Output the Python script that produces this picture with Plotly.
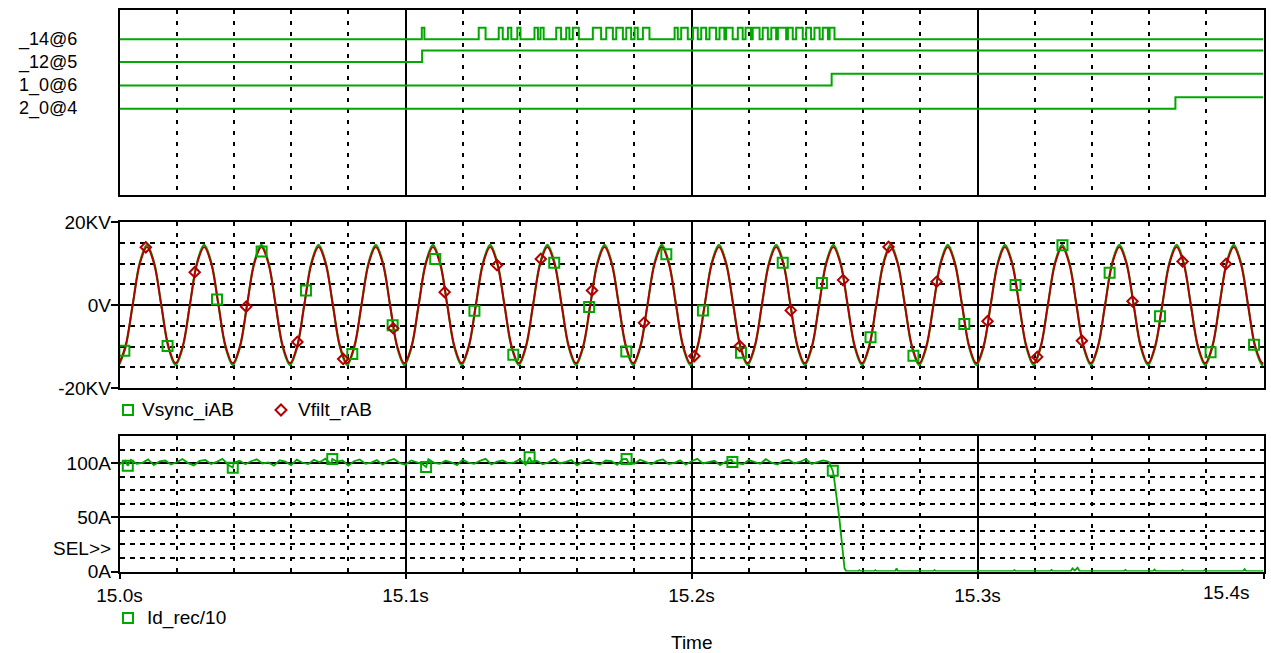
import plotly.graph_objects as go

W, H = 1271, 653
GREEN = "#00A800"
RED = "#B00000"
FONT = "Liberation Sans, Arial, sans-serif"

# ---------------- data ----------------
t_range = [15.0, 15.4]
x_tickvals = [15.0, 15.1, 15.2, 15.3, 15.4]
x_ticktext = ["15.0s", "15.1s", "15.2s", "15.3s", ""]

# digital signals: times of level changes (start low)
sig_names = ["_14@6", "_12@5", "1_0@6", "2_0@4"]
sig14_edges = [15.1057, 15.1066, 15.1256, 15.1280, 15.1326, 15.1340, 15.1358, 15.1370,
               15.1391, 15.1402, 15.1451, 15.1463, 15.1472, 15.1483, 15.1527, 15.1544,
               15.1562, 15.1573, 15.1585, 15.1606, 15.1655, 15.1684, 15.1702, 15.1725,
               15.1737, 15.1760, 15.1772, 15.1789, 15.1801, 15.1812, 15.1830, 15.1853,
               15.1941, 15.1952, 15.1964, 15.1987, 15.2005, 15.2022, 15.2034, 15.2051,
               15.2063, 15.2086, 15.2098, 15.2115, 15.2121, 15.2144, 15.2162, 15.2179,
               15.2189, 15.2208, 15.2214, 15.2238, 15.2249, 15.2267, 15.2279, 15.2296,
               15.2302, 15.2331, 15.2337, 15.2354, 15.2366, 15.2389, 15.2401, 15.2418,
               15.2430, 15.2448, 15.2459, 15.2477, 15.2483, 15.2500]
sig12_edges = [15.1058]
sig10_edges = [15.2490]
sig20_edges = [15.3692]

# voltages (kV), sampled every 2.5 ms
v_t = [15.0] + [round(15.0021 + 0.0025 * k, 4) for k in range(160)] + [15.4]
vfilt_kv = [-13.9,
    -9.9, 0.0, 9.9, 14.0, 9.9, 0.0, -9.9, -14.0,
    -9.9, 0.0, 9.9, 14.0, 9.9, 0.0, -9.9, -14.0,
    -9.9, 0.0, 9.9, 14.0, 9.9, 0.0, -9.9, -14.0,
    -9.9, 0.0, 9.9, 14.0, 9.9, 0.0, -9.9, -14.0,
    -9.9, 0.0, 9.9, 14.0, 9.9, 0.0, -9.9, -14.0,
    -9.9, 0.0, 9.9, 14.0, 9.9, 0.0, -9.9, -14.0,
    -9.9, 0.0, 9.9, 14.0, 9.9, 0.0, -9.9, -14.0,
    -9.9, 0.0, 9.9, 14.0, 9.9, 0.0, -9.9, -14.0,
    -9.9, 0.0, 9.9, 14.0, 9.9, 0.0, -9.9, -14.0,
    -9.9, 0.0, 9.9, 14.0, 9.9, 0.0, -9.9, -14.0,
    -9.9, 0.0, 9.9, 14.0, 9.9, 0.0, -9.9, -14.0,
    -9.9, 0.0, 9.9, 14.0, 9.9, 0.0, -9.9, -14.0,
    -9.9, 0.0, 9.9, 14.0, 9.9, 0.0, -9.9, -14.0,
    -9.9, 0.0, 9.9, 14.0, 9.9, 0.0, -9.9, -14.0,
    -9.9, 0.0, 9.9, 14.0, 9.9, 0.0, -9.9, -14.0,
    -9.9, 0.0, 9.9, 14.0, 9.9, 0.0, -9.9, -14.0,
    -9.9, 0.0, 9.9, 14.0, 9.9, 0.0, -9.9, -14.0,
    -9.9, 0.0, 9.9, 14.0, 9.9, 0.0, -9.9, -14.0,
    -9.9, 0.0, 9.9, 14.0, 9.9, 0.0, -9.9, -14.0,
    -9.9, 0.0, 9.9, 14.0, 9.9, 0.0, -9.9, -14.0,
    -13.9]
vsync_kv = [-14.3,
    -10.3, 0.0, 10.3, 14.5, 10.3, 0.0, -10.3, -14.5,
    -10.3, 0.0, 10.3, 14.5, 10.3, 0.0, -10.3, -14.5,
    -10.3, 0.0, 10.3, 14.5, 10.3, 0.0, -10.3, -14.5,
    -10.3, 0.0, 10.3, 14.5, 10.3, 0.0, -10.3, -14.5,
    -10.3, 0.0, 10.3, 14.5, 10.3, 0.0, -10.3, -14.5,
    -10.3, 0.0, 10.3, 14.5, 10.3, 0.0, -10.3, -14.5,
    -10.3, 0.0, 10.3, 14.5, 10.3, 0.0, -10.3, -14.5,
    -10.3, 0.0, 10.3, 14.5, 10.3, 0.0, -10.3, -14.5,
    -10.3, 0.0, 10.3, 14.5, 10.3, 0.0, -10.3, -14.5,
    -10.3, 0.0, 10.3, 14.5, 10.3, 0.0, -10.3, -14.5,
    -10.3, 0.0, 10.3, 14.5, 10.3, 0.0, -10.3, -14.5,
    -10.3, 0.0, 10.3, 14.5, 10.3, 0.0, -10.3, -14.5,
    -10.3, 0.0, 10.3, 14.5, 10.3, 0.0, -10.3, -14.5,
    -10.3, 0.0, 10.3, 14.5, 10.3, 0.0, -10.3, -14.5,
    -10.3, 0.0, 10.3, 14.5, 10.3, 0.0, -10.3, -14.5,
    -10.3, 0.0, 10.3, 14.5, 10.3, 0.0, -10.3, -14.5,
    -10.3, 0.0, 10.3, 14.5, 10.3, 0.0, -10.3, -14.5,
    -10.3, 0.0, 10.3, 14.5, 10.3, 0.0, -10.3, -14.5,
    -10.3, 0.0, 10.3, 14.5, 10.3, 0.0, -10.3, -14.5,
    -10.3, 0.0, 10.3, 14.5, 10.3, 0.0, -10.3, -14.5,
    -14.3]

vsync_mk_t = [15.0017, 15.0168, 15.0341, 15.0497, 15.0652, 15.0814, 15.0955, 15.1104,
              15.1241, 15.1377, 15.1520, 15.1642, 15.1772, 15.1912, 15.2040, 15.2173,
              15.2319, 15.2456, 15.2626, 15.2776, 15.2954, 15.3133, 15.3297, 15.3462,
              15.3638, 15.3815, 15.3967]
vsync_mk_kv = [-11.0, -9.9, 1.3, 12.9, 3.5, -11.8, -4.9, 11.1,
               -1.4, -12.0, 10.2, -0.5, -11.2, 12.2, -1.3, -11.5,
               10.2, 5.3, -7.8, -12.2, -4.6, 4.8, 14.4, 7.8,
               -2.7, -11.4, -9.6]
vfilt_mk_t = [15.0092, 15.0263, 15.0443, 15.0622, 15.0782, 15.0957, 15.1137, 15.1320,
              15.1473, 15.1652, 15.1834, 15.2010, 15.2169, 15.2347, 15.2530, 15.2689,
              15.2857, 15.3035, 15.3209, 15.3365, 15.3542, 15.3717, 15.3869]
vfilt_mk_kv = [13.9, 7.9, -0.4, -8.9, -13.0, -5.6, 3.1, 9.6,
               11.1, 3.5, -4.3, -12.3, -9.9, -1.3, 6.0, 14.0,
               5.6, -3.9, -12.5, -8.6, 0.9, 10.5, 9.9]

mid_tickvals = [-20, 0, 20]
mid_ticktext = ["-20KV", "0V", "20KV"]

# current Id_rec/10 (A): noisy plateau sampled every 2 ms
id_t = [round(15.0 + 0.002 * i, 3) for i in range(125)]
id_a = [98.9, 102.1, 103.0, 99.4, 100.3, 103.4, 98.2, 101.5, 102.4, 98.7,
        100.8, 103.7, 100.0, 97.9, 102.0, 102.8, 99.2, 101.1, 103.9, 98.5,
        100.4, 102.2, 99.0, 101.7, 103.5, 99.7, 100.6, 97.6, 102.6, 101.3,
        98.2, 103.2, 100.3, 99.1, 103.1, 100.7, 104.1, 98.8, 101.4, 102.4,
        97.8, 101.7, 103.4, 99.4, 100.4, 102.8, 98.6, 102.0, 103.8, 100.0,
        98.5, 102.5, 101.1, 99.0, 103.6, 100.3, 99.4, 102.1, 100.8, 98.2,
        103.2, 100.4, 99.3, 102.0, 103.9, 98.7, 101.4, 102.5, 99.7, 100.7,
        103.4, 98.5, 101.5, 102.1, 99.0, 100.8, 103.8, 99.7, 101.1, 102.8,
        97.9, 101.3, 103.2, 100.0, 98.7, 102.4, 101.8, 98.4, 103.6, 100.4,
        99.4, 103.1, 100.7, 99.0, 102.0, 103.4, 99.2, 100.3, 102.5, 98.5,
        101.7, 103.9, 99.7, 100.8, 102.1, 98.2, 101.5, 103.2, 100.0, 99.0,
        102.8, 101.1, 99.4, 103.6, 100.4, 98.7, 102.0, 103.1, 99.7, 101.3,
        103.8, 99.2, 100.8, 102.5, 101.3]
# collapse and tail
id_tail_t = [15.2494, 15.2498, 15.2508, 15.2517, 15.2526, 15.2535, 15.2541,
             15.2560, 15.2583, 15.2587, 15.2591, 15.2639, 15.2643, 15.2647, 15.2712,
             15.2717, 15.2722, 15.2845, 15.2850, 15.2855, 15.3002, 15.3007, 15.3012,
             15.3124, 15.3129, 15.3134, 15.3254, 15.3259, 15.3264, 15.3326, 15.3332,
             15.3340, 15.3350, 15.3357, 15.3512, 15.3517, 15.3522, 15.3614, 15.3619,
             15.3624, 15.3712, 15.3717, 15.3722, 15.3789, 15.3794, 15.3799, 15.3929,
             15.3934, 15.3939, 15.4000]
id_tail_a = [93.0, 87.0, 68.0, 49.0, 26.0, 3.0, 0.4,
             0.3, 0.3, 1.2, 0.3, 0.3, 1.2, 0.3, 0.3,
             2.8, 0.3, 0.3, 1.2, 0.3, 0.3, 1.0, 0.3,
             0.3, 1.2, 0.3, 0.3, 1.4, 0.3, 0.3, 2.8,
             0.8, 3.5, 0.3, 0.3, 1.4, 0.3, 0.3, 1.8,
             0.3, 0.3, 1.4, 0.3, 0.3, 1.2, 0.3, 0.3,
             2.2, 0.3, 0.3]
id_mk_t = [15.0029, 15.0396, 15.0744, 15.1072, 15.1434, 15.1773, 15.2143, 15.2494]
id_mk_a = [97.6, 95.8, 103.8, 96.4, 105.4, 103.8, 101.0, 93.0]

bot_tickvals = [0, 50, 100]
bot_ticktext = ["0A", "50A", "100A"]

# ---------------- layout helpers ----------------
def px(x):
    return x / W

def py(y):
    return 1 - y / H

XDOM = [px(119.5), px(1263.5)]
TOP_DOM = [py(195), py(10)]
MID_DOM = [py(388), py(222)]
BOT_DOM = [py(571.5), py(436)]

row_base = [6.73, 5.75, 4.74, 3.73]
row_high = 0.5

fig = go.Figure()

def digital(edges, base):
    xs = [t_range[0]]
    ys = [base]
    lvl = 0
    for e in edges:
        lvl = 1 - lvl
        xs.append(e)
        ys.append(base + lvl * row_high)
    xs.append(t_range[1])
    ys.append(base + lvl * row_high)
    return xs, ys

for name, edges, base in zip(sig_names, [sig14_edges, sig12_edges, sig10_edges, sig20_edges], row_base):
    xs, ys = digital(edges, base)
    fig.add_trace(go.Scatter(x=xs, y=ys, mode="lines", line=dict(color=GREEN, width=2, shape="hv"),
                             xaxis="x", yaxis="y", showlegend=False, hoverinfo="skip", name=name))

fig.add_trace(go.Scatter(x=v_t, y=vsync_kv, mode="lines", line=dict(color=GREEN, width=2, shape="spline"),
                         xaxis="x2", yaxis="y2", showlegend=False, name="Vsync_iAB"))
fig.add_trace(go.Scatter(x=v_t, y=vfilt_kv, mode="lines", line=dict(color=RED, width=2, shape="spline"),
                         xaxis="x2", yaxis="y2", showlegend=False, name="Vfilt_rAB"))
fig.add_trace(go.Scatter(x=vsync_mk_t, y=vsync_mk_kv, mode="markers",
                         marker=dict(symbol="square-open", size=10, color=GREEN, line=dict(width=2, color=GREEN)),
                         xaxis="x2", yaxis="y2", showlegend=False))
fig.add_trace(go.Scatter(x=vfilt_mk_t, y=vfilt_mk_kv, mode="markers",
                         marker=dict(symbol="diamond-open", size=8, color=RED, line=dict(width=2, color=RED)),
                         xaxis="x2", yaxis="y2", showlegend=False))

pts = sorted(list(zip(id_t, id_a)) + list(zip(id_mk_t[:-1], id_mk_a[:-1])) + list(zip(id_tail_t, id_tail_a)))
fig.add_trace(go.Scatter(x=[p[0] for p in pts], y=[p[1] for p in pts], mode="lines",
                         line=dict(color=GREEN, width=1.8), xaxis="x3", yaxis="y3", showlegend=False,
                         name="Id_rec/10"))
fig.add_trace(go.Scatter(x=id_mk_t, y=id_mk_a, mode="markers",
                         marker=dict(symbol="square-open", size=10, color=GREEN, line=dict(width=2, color=GREEN)),
                         xaxis="x3", yaxis="y3", showlegend=False))

tickfont = dict(family=FONT, size=19, color="black")

def xaxis_cfg(anchor, labels):
    cfg = dict(domain=XDOM, anchor=anchor, range=t_range, showline=True, mirror=True,
               linecolor="black", linewidth=1.5, zeroline=False, automargin=False,
               tickmode="array", tickvals=x_tickvals, ticktext=x_ticktext,
               showgrid=True, gridcolor="black", gridwidth=1.5,
               minor=dict(tickmode="linear", tick0=15.0, dtick=0.02, showgrid=True,
                          gridcolor="black", gridwidth=1.5, griddash="4px,7px", ticks=""),
               tickfont=tickfont)
    if labels:
        cfg.update(ticks="outside", ticklen=6, tickwidth=1.5, tickcolor="black", showticklabels=True)
    else:
        cfg.update(ticks="", showticklabels=False)
    return cfg

fig.update_layout(
    width=W, height=H, margin=dict(l=0, r=0, t=0, b=0, autoexpand=False),
    paper_bgcolor="white", plot_bgcolor="white", showlegend=False,
    font=dict(family=FONT, size=19, color="black"),
    xaxis=xaxis_cfg("y", False),
    xaxis2=xaxis_cfg("y2", False),
    xaxis3=xaxis_cfg("y3", True),
    yaxis=dict(domain=TOP_DOM, anchor="x", range=[0, 8], showline=True, mirror=True,
               linecolor="black", linewidth=1.5, showgrid=False, zeroline=False, automargin=False,
               ticks="", showticklabels=False),
    yaxis2=dict(domain=MID_DOM, anchor="x2", range=[-20, 20], showline=True, mirror=True,
                linecolor="black", linewidth=1.5, zeroline=False, automargin=False,
                tickmode="array", tickvals=mid_tickvals, ticktext=mid_ticktext,
                ticks="outside", ticklen=7, tickwidth=1.5, tickcolor="black", ticklabelstandoff=-4,
                showgrid=True, gridcolor="black", gridwidth=1.5,
                minor=dict(tickmode="linear", tick0=0, dtick=5, showgrid=True, gridcolor="black",
                           gridwidth=1.5, griddash="5px,5px", ticks=""),
                tickfont=tickfont),
    yaxis3=dict(domain=BOT_DOM, anchor="x3", range=[0, 125], showline=True, mirror=True,
                linecolor="black", linewidth=1.5, zeroline=False, automargin=False,
                tickmode="array", tickvals=bot_tickvals, ticktext=bot_ticktext,
                ticks="outside", ticklen=7, tickwidth=1.5, tickcolor="black", ticklabelstandoff=-4,
                showgrid=True, gridcolor="black", gridwidth=1.5,
                minor=dict(tickmode="linear", tick0=0, dtick=12.5, showgrid=True, gridcolor="black",
                           gridwidth=1.5, griddash="5px,5px", ticks=""),
                tickfont=tickfont),
)

annotations = []
for name, base in zip(sig_names, row_base):
    annotations.append(dict(text=name, xref="paper", yref="y", x=px(79), y=base, xanchor="right",
                            yanchor="middle", showarrow=False, font=dict(family=FONT, size=18, color="black")))
annotations += [
    dict(text="15.4s", xref="paper", yref="paper", x=px(1251), y=py(592), xanchor="right", yanchor="middle",
         showarrow=False, font=dict(family=FONT, size=19, color="black")),
    dict(text="SEL>>", xref="paper", yref="paper", x=px(113), y=py(548), xanchor="right", yanchor="middle",
         showarrow=False, font=dict(family=FONT, size=19, color="black")),
    dict(text="Time", xref="paper", yref="paper", x=px(692), y=py(642), xanchor="center", yanchor="middle",
         showarrow=False, font=dict(family=FONT, size=19, color="black")),
    dict(text="Vsync_iAB", xref="paper", yref="paper", x=px(140), y=py(410), xanchor="left", yanchor="middle",
         showarrow=False, font=dict(family=FONT, size=19, color="black")),
    dict(text="Vfilt_rAB", xref="paper", yref="paper", x=px(296), y=py(410), xanchor="left", yanchor="middle",
         showarrow=False, font=dict(family=FONT, size=19, color="black")),
    dict(text="Id_rec/10", xref="paper", yref="paper", x=px(145), y=py(618), xanchor="left", yanchor="middle",
         showarrow=False, font=dict(family=FONT, size=19, color="black")),
]
fig.update_layout(annotations=annotations)

def sq(cx, cy, h, color):
    return dict(type="rect", xref="paper", yref="paper", x0=px(cx - h), x1=px(cx + h),
                y0=py(cy + h), y1=py(cy - h), line=dict(color=color, width=2))

def dm(cx, cy, h, color):
    path = "M {},{} L {},{} L {},{} L {},{} Z".format(px(cx), py(cy - h), px(cx + h), py(cy),
                                                      px(cx), py(cy + h), px(cx - h), py(cy))
    return dict(type="path", xref="paper", yref="paper", path=path, line=dict(color=color, width=2))

fig.update_layout(shapes=[sq(128, 410, 5, GREEN), dm(281, 410, 5.5, RED), sq(128, 618, 5, GREEN)])

fig.write_html("out.html", config={"displayModeBar": False},
               post_script="document.body.style.margin='0px';")
